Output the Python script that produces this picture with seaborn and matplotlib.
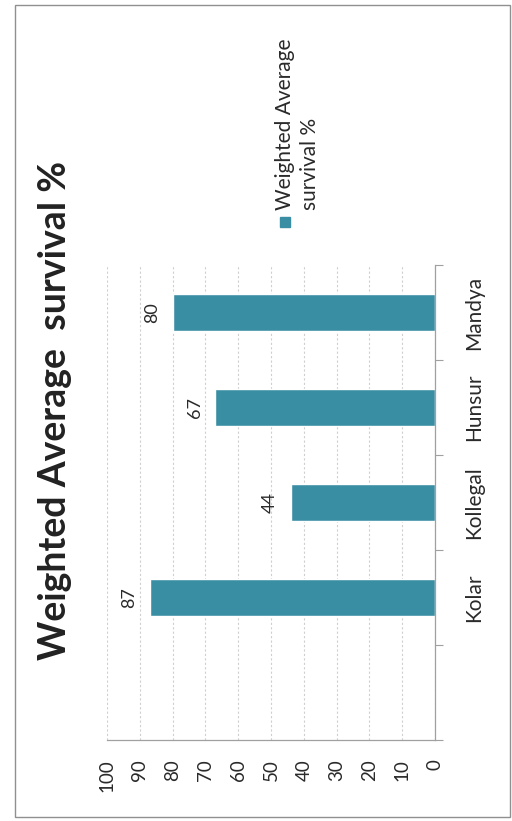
import matplotlib
matplotlib.use("Agg")
import matplotlib.pyplot as plt
import seaborn as sns
import pandas as pd
from matplotlib.patches import Rectangle

# ---- data ----
categories = ["Mandya", "Hunsur", "Kollegal", "Kolar"]
survival = [80, 67, 44, 87]
value_ticks = [0, 10, 20, 30, 40, 50, 60, 70, 80, 90, 100]
title = "Weighted Average  survival %"
legend_label_1 = "Weighted Average"
legend_label_2 = "survival %"

BAR = "#3a8ea3"
W, H = 512, 821

sns.set_theme(style="white")
plt.rcParams["font.family"] = ["Lato", "DejaVu Sans"]

df = pd.DataFrame({"site": categories, "value": survival})

fig = plt.figure(figsize=(W / 100, H / 100), dpi=100)
fig.patch.set_facecolor("white")
ax = fig.add_axes([107 / W, (H - 740) / H, (435 - 107) / W, (740 - 265) / H])

sns.barplot(data=df, y="site", x="value", order=categories, color=BAR,
            width=0.39, ax=ax, orient="h", saturation=1)

# value axis (appears horizontal, 0 at right)
ax.set_xlim(100, 0)
ax.set_xticks(value_ticks)
ax.set_xticklabels([str(v) for v in value_ticks], rotation=90, fontsize=13.5, color="#2a2a2a")
ax.tick_params(axis="x", direction="out", length=4, width=0.8, color="#a0a0a0", pad=10)
ax.xaxis.grid(True, color="#cfcfcf", linestyle=(0, (2, 2)), linewidth=0.8)
ax.yaxis.grid(False)
ax.set_axisbelow(True)

# category axis on the right, with an empty slot below Kolar
ax.set_ylim(len(categories) + 0.5, -0.5)
ax.yaxis.tick_right()
centers = list(range(len(categories)))
bounds = [i - 0.5 for i in range(len(categories) + 2)]
ax.set_yticks(bounds)
ax.set_yticklabels([""] * len(bounds))
ax.set_yticks(centers, minor=True)
ax.set_yticklabels(categories, minor=True, rotation=90, fontsize=15,
                   color="#2a2a2a", va="center")
ax.tick_params(axis="y", which="major", direction="out", length=6, width=0.8,
               color="#a0a0a0", right=True, left=False)
ax.tick_params(axis="y", which="minor", length=0, pad=21, right=True, left=False)
ax.set_xlabel("")
ax.set_ylabel("")

for s in ["left", "top"]:
    ax.spines[s].set_visible(False)
for s in ["right", "bottom"]:
    ax.spines[s].set_visible(True)
    ax.spines[s].set_color("#a0a0a0")
    ax.spines[s].set_linewidth(0.9)

ax.bar_label(ax.containers[0], rotation=90, padding=9, fontsize=13, color="#2a2a2a")

# title (rotated)
fig.text(55 / W, (H - 410) / H, title, rotation=90, ha="center", va="center",
         fontsize=27, fontweight="bold", color="#222222")

# legend (rotated, manual)
fig.patches.append(Rectangle((280 / W, (H - 227) / H), 10 / W, 10 / H,
                             transform=fig.transFigure, color=BAR, zorder=3))
fig.text(285 / W, (H - 210) / H, legend_label_1, rotation=90, rotation_mode="anchor",
         ha="left", va="center", fontsize=15, color="#2a2a2a")
fig.text(310 / W, (H - 210) / H, legend_label_2, rotation=90, rotation_mode="anchor",
         ha="left", va="center", fontsize=15, color="#2a2a2a")

# chart border
fig.patches.append(Rectangle((15 / W, (H - 817) / H), 495 / W, 812 / H,
                             transform=fig.transFigure, fill=False,
                             edgecolor="#909090", linewidth=1.0))

fig.savefig("out.png", dpi=100, facecolor="white")
